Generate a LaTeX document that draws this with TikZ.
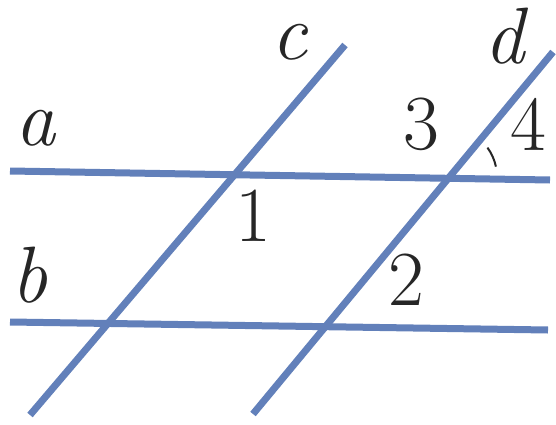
\documentclass[tikz,border=0pt]{standalone}
\usepackage{tikz}
\usetikzlibrary{calc}

\begin{document}
\begin{tikzpicture}[x=1pt, y=-1pt,
  line/.style={line width=7pt, color=lineblue, line cap=butt},
  lbl/.style={font=\fontsize{78}{78}\selectfont, inner sep=0pt, text=black!85},
  letter/.style={lbl, font=\fontsize{80}{80}\selectfont\itshape},
  anglemark/.style={line width=2pt, black!85},
]
\definecolor{lineblue}{RGB}{98,128,186}
\useasboundingbox (0,0) rectangle (556,425);

% End points of the four lines
\coordinate (a1) at (10,171);  \coordinate (a2) at (550,180);
\coordinate (b1) at (10,322);  \coordinate (b2) at (548,330);
\coordinate (c1) at (345,45);  \coordinate (c2) at (30,415);
\coordinate (d1) at (553,52);  \coordinate (d2) at (253,414);
\coordinate (P) at (447,177);

% Lines
\draw[line] (a1) -- (a2);
\draw[line] (b1) -- (b2);
\draw[line] (c1) -- (c2);
\draw[line] (d1) -- (d2);

% Angle mark
\draw[anglemark] ($(P)+(-12:50)$) arc[start angle=-12, end angle=-36, radius=50];

% Labels
\node[letter] (la) at (36,128) {a};
\node[letter] (lb) at (30,275) {b};
\node[letter] (lc) at (289,42) {c};
\node[letter] (ld) at (504,36) {d};
\node[lbl] (n1) at (253,216) {1};
\node[lbl] (n2) at (406,280) {2};
\node[lbl] (n3) at (421,124) {3};
\node[lbl] (n4) at (528,124) {4};

\end{tikzpicture}
\end{document}
